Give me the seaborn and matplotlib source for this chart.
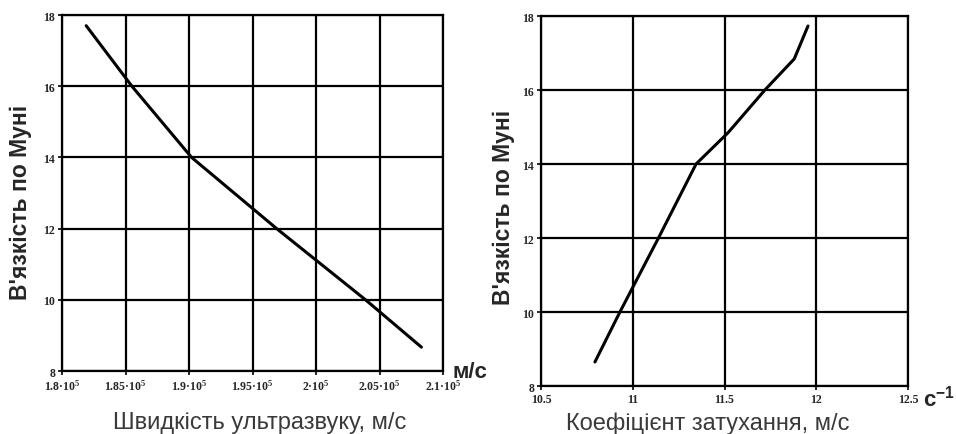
import numpy as np
import pandas as pd
import matplotlib
matplotlib.use("Agg")
import matplotlib.pyplot as plt
import seaborn as sns

# left panel: viscosity vs ultrasound speed
speed = [1.819e5, 1.855e5, 1.902e5, 1.969e5, 2.039e5, 2.083e5]
visc_speed = [17.7, 16.0, 14.0, 12.0, 10.0, 8.67]
speed_ticks = [1.8e5, 1.85e5, 1.9e5, 1.95e5, 2.0e5, 2.05e5, 2.1e5]
speed_labels = ["1.8·10$^5$", "1.85·10$^5$", "1.9·10$^5$", "1.95·10$^5$",
                "2·10$^5$", "2.05·10$^5$", "2.1·10$^5$"]

# right panel: viscosity vs attenuation coefficient
atten = [10.794, 10.93, 11.14, 11.345, 11.52, 11.72, 11.88, 11.955]
visc_atten = [8.65, 10.0, 12.0, 14.0, 14.85, 16.0, 16.84, 17.73]
atten_ticks = [10.5, 11.0, 11.5, 12.0, 12.5]
atten_labels = ["10.5", "11", "11.5", "12", "12.5"]

visc_ticks = [8, 10, 12, 14, 16, 18]
ylabel = "В'язкість по Муні"

sns.set_style("white")
plt.rcParams["font.family"] = ["Liberation Sans", "DejaVu Sans"]
plt.rcParams["mathtext.default"] = "regular"

fig = plt.figure(figsize=(9.56, 4.35), dpi=100)
ax1 = fig.add_axes([0.0649, 0.1448, 0.3985, 0.8184])
ax2 = fig.add_axes([0.5659, 0.1103, 0.3839, 0.8506])

df1 = pd.DataFrame({"x": speed, "y": visc_speed})
df2 = pd.DataFrame({"x": atten, "y": visc_atten})


def style_axes(ax, xticks, xlabels, xlim):
    ax.set_xlim(*xlim)
    ax.set_ylim(8, 18)
    ax.set_xticks(xticks)
    ax.set_xticklabels(xlabels, family="Liberation Serif", fontsize=8.5,
                       fontweight="bold")
    ax.set_yticks(visc_ticks)
    ax.set_yticklabels([str(v) for v in visc_ticks], family="Liberation Serif",
                       fontsize=8.5, fontweight="bold")
    ax.grid(True, color="black", linewidth=1.6)
    for sp in ax.spines.values():
        sp.set_color("black")
        sp.set_linewidth(1.6)
    ax.tick_params(axis="both", length=3, width=1.2, color="black", pad=2,
                   bottom=True, left=True)
    ax.set_ylabel(ylabel, fontsize=16.5, fontweight="bold")


sns.lineplot(data=df1, x="x", y="y", ax=ax1, color="black", linewidth=2.2,
             sort=False)
style_axes(ax1, speed_ticks, speed_labels, (1.8e5, 2.1e5))
ax1.set_xlabel("Швидкість ультразвуку, м/с", fontsize=17, color="#3a3a3a")
ax1.xaxis.set_label_coords(0.52, -0.112)
ax1.yaxis.set_label_coords(-0.079, 0.475)

sns.lineplot(data=df2, x="x", y="y", ax=ax2, color="black", linewidth=2.2,
             sort=False)
style_axes(ax2, atten_ticks, atten_labels, (10.5, 12.5))
ax2.set_xlabel("Коефіцієнт затухання, м/с", fontsize=17, color="#3a3a3a")
ax2.xaxis.set_label_coords(0.455, -0.068)
ax2.yaxis.set_label_coords(-0.071, 0.486)

fig.text(470 / 956, 1 - 373 / 435, "м/с", fontsize=16, fontweight="bold",
         ha="center", va="center")
fig.text(939 / 956, 1 - 399 / 435, "с$^{-1}$", fontsize=16, fontweight="bold",
         ha="center", va="center")

fig.savefig("out.png", dpi=100)
